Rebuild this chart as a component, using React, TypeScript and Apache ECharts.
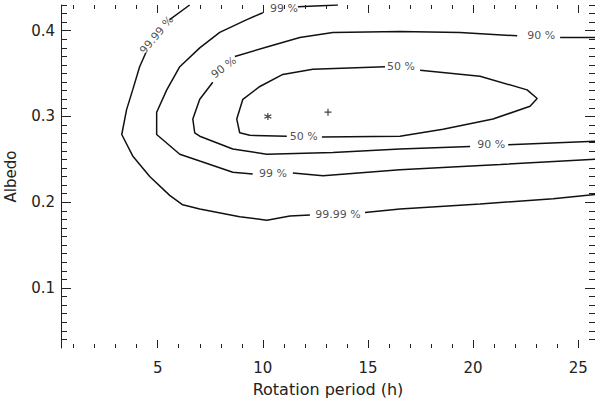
import React, { useEffect, useRef } from 'react';
import * as echarts from 'echarts';

// Axis ticks
const xMajorTicks = [5, 10, 15, 20, 25];
const xMinorTicks = [1, 2, 3, 4, 6, 7, 8, 9, 11, 12, 13, 14, 16, 17, 18, 19, 21, 22, 23, 24];
const yMajorTicks = [0.1, 0.2, 0.3, 0.4];
const yMinorTicks = [
  0.04, 0.05, 0.06, 0.07, 0.08, 0.09,
  0.11, 0.12, 0.13, 0.14, 0.15, 0.16, 0.17, 0.18, 0.19,
  0.21, 0.22, 0.23, 0.24, 0.25, 0.26, 0.27, 0.28, 0.29,
  0.31, 0.32, 0.33, 0.34, 0.35, 0.36, 0.37, 0.38, 0.39,
  0.41, 0.42, 0.43,
];

// Contour lines (rotation period h, albedo), split where labels interrupt them
const contour50 = [
  [[15.81, 0.358], [12.38, 0.355], [10.95, 0.349], [9.86, 0.335], [9.05, 0.320], [8.76, 0.297], [8.90, 0.281], [9.38, 0.278], [11.14, 0.277]],
  [[12.81, 0.276], [16.52, 0.277], [18.57, 0.285], [20.95, 0.297], [22.71, 0.312], [23.05, 0.321], [22.57, 0.331], [20.33, 0.347], [17.48, 0.354]],
];
const contour90 = [
  [[25.8, 0.392], [24.14, 0.392]],
  [[22.10, 0.394], [19.38, 0.398], [16.52, 0.399], [13.33, 0.398], [11.76, 0.392], [10.19, 0.381], [8.67, 0.370]],
  [[7.62, 0.340], [7.00, 0.320], [6.67, 0.297], [6.76, 0.281], [7.00, 0.277], [8.57, 0.262], [10.19, 0.256], [13.33, 0.258], [16.52, 0.262], [19.86, 0.265]],
  [[21.67, 0.267], [25.8, 0.271]],
];
const contour99 = [
  [[13.57, 0.430], [11.67, 0.428]],
  [[10.00, 0.421], [9.24, 0.413], [7.95, 0.398], [7.00, 0.380], [6.05, 0.358], [5.43, 0.331], [4.95, 0.305], [4.95, 0.279], [6.05, 0.256], [7.00, 0.248], [8.57, 0.235], [9.52, 0.233]],
  [[11.43, 0.234], [12.86, 0.231], [16.52, 0.238], [21.29, 0.244], [25.8, 0.250]],
];
const contour9999 = [
  [[6.52, 0.430], [5.57, 0.413]],
  [[4.43, 0.374], [4.14, 0.358], [3.81, 0.331], [3.52, 0.308], [3.29, 0.279], [3.81, 0.254], [4.62, 0.230], [5.57, 0.208], [6.19, 0.197], [7.00, 0.192], [8.90, 0.183], [10.19, 0.179], [11.29, 0.184], [12.24, 0.185]],
  [[14.86, 0.188], [16.52, 0.192], [20.33, 0.198], [23.81, 0.204], [25.8, 0.209]],
];

// Contour labels
const labelTexts = ['99.99 %', '99 %', '90 %', '90 %', '50 %', '50 %', '90 %', '99 %', '99.99 %'];
const labelPositions = [
  [4.95, 0.395], [11.0, 0.426], [8.14, 0.357], [23.24, 0.395], [16.57, 0.358],
  [11.95, 0.277], [20.86, 0.267], [10.48, 0.233], [13.57, 0.186],
];
const labelAngles = [50, 0, 37, 0, 0, 0, 0, 0, 0];

// Markers
const asteriskPoint = [10.24, 0.300];
const plusPoint = [13.10, 0.305];

const FONT = 'DejaVu Sans';
const INK = '#222';

export default function App() {
  const ref = useRef<HTMLDivElement>(null);
  useEffect(() => {
    if (!ref.current) return;
    const chart = echarts.init(ref.current, null, { renderer: 'svg' });
    const xMin = 0.4, xMax = 25.8, yMin = 0.03, yMax = 0.43;
    const tickStyle = { color: INK, width: 1 };
    const mkX = (pos: string, ticks: number[], len: number, extra: any = {}) => ({
      type: 'value', min: xMin, max: xMax, position: pos,
      axisLine: { show: false }, splitLine: { show: false },
      axisTick: { show: true, inside: true, length: len, customValues: ticks, lineStyle: tickStyle },
      axisLabel: { show: false },
      ...extra,
    });
    const mkY = (pos: string, ticks: number[], len: number, extra: any = {}) => ({
      type: 'value', min: yMin, max: yMax, position: pos,
      axisLine: { show: false }, splitLine: { show: false },
      axisTick: { show: true, inside: true, length: len, customValues: ticks, lineStyle: tickStyle },
      axisLabel: { show: false },
      ...extra,
    });
    const lineSeries: any[] = [];
    [contour50, contour90, contour99, contour9999].forEach((c) => {
      c.forEach((seg) => {
        lineSeries.push({
          type: 'line', data: seg, showSymbol: false, symbol: 'none',
          lineStyle: { color: '#111', width: 1.5 }, xAxisIndex: 0, yAxisIndex: 0, silent: true,
        });
      });
    });
    const option: any = {
      animation: false,
      backgroundColor: '#fff',
      grid: { left: 61, right: 5, top: 5, bottom: 52, containLabel: false, outerBoundsMode: 'none' },
      xAxis: [
        mkX('bottom', xMajorTicks, 8, {
          axisLabel: { show: true, customValues: xMajorTicks, fontSize: 15, color: INK, fontFamily: FONT, margin: 12 },
          name: 'Rotation period (h)', nameLocation: 'middle', nameGap: 33,
          nameTextStyle: { fontSize: 16, color: INK, fontFamily: FONT },
        }),
        mkX('bottom', xMinorTicks, 4),
        mkX('top', xMajorTicks, 8),
        mkX('top', xMinorTicks, 4),
      ],
      yAxis: [
        mkY('left', yMajorTicks, 10, {
          axisLine: { show: true, lineStyle: { color: INK, width: 1 } },
          axisLabel: { show: true, customValues: yMajorTicks, fontSize: 15, color: INK, fontFamily: FONT, margin: 6 },
          name: 'Albedo', nameLocation: 'middle', nameGap: 43, nameRotate: 90,
          nameTextStyle: { fontSize: 15, color: INK, fontFamily: FONT },
        }),
        mkY('left', yMinorTicks, 6),
        mkY('right', yMajorTicks, 10),
        mkY('right', yMinorTicks, 6),
      ],
      series: [
        ...lineSeries,
        {
          type: 'scatter', xAxisIndex: 0, yAxisIndex: 0, symbolSize: 0, silent: true,
          data: labelPositions.map((p, i) => ({
            value: p, name: labelTexts[i],
            label: { rotate: labelAngles[i] },
          })),
          label: {
            show: true, position: 'inside', formatter: (d: any) => d.name,
            fontSize: 11, color: INK, fontFamily: FONT, align: 'center', verticalAlign: 'middle',
          },
        },
        {
          type: 'scatter', xAxisIndex: 0, yAxisIndex: 0, silent: true,
          data: [asteriskPoint],
          symbol: 'path://M0,-1L0,1M-0.87,-0.5L0.87,0.5M-0.87,0.5L0.87,-0.5',
          symbolSize: 7,
          itemStyle: { color: 'none', borderColor: '#111', borderWidth: 1.2 },
        },
        {
          type: 'scatter', xAxisIndex: 0, yAxisIndex: 0, silent: true,
          data: [plusPoint],
          symbol: 'path://M0,-1L0,1M-1,0L1,0',
          symbolSize: 7,
          itemStyle: { color: 'none', borderColor: '#111', borderWidth: 1.2 },
        },
      ],
    };
    chart.setOption(option);
    return () => chart.dispose();
  }, []);
  return (
    <div
      ref={ref}
      style={{ position: 'fixed', left: 0, top: 0, width: 600, height: 400, background: '#fff' }}
    />
  );
}
